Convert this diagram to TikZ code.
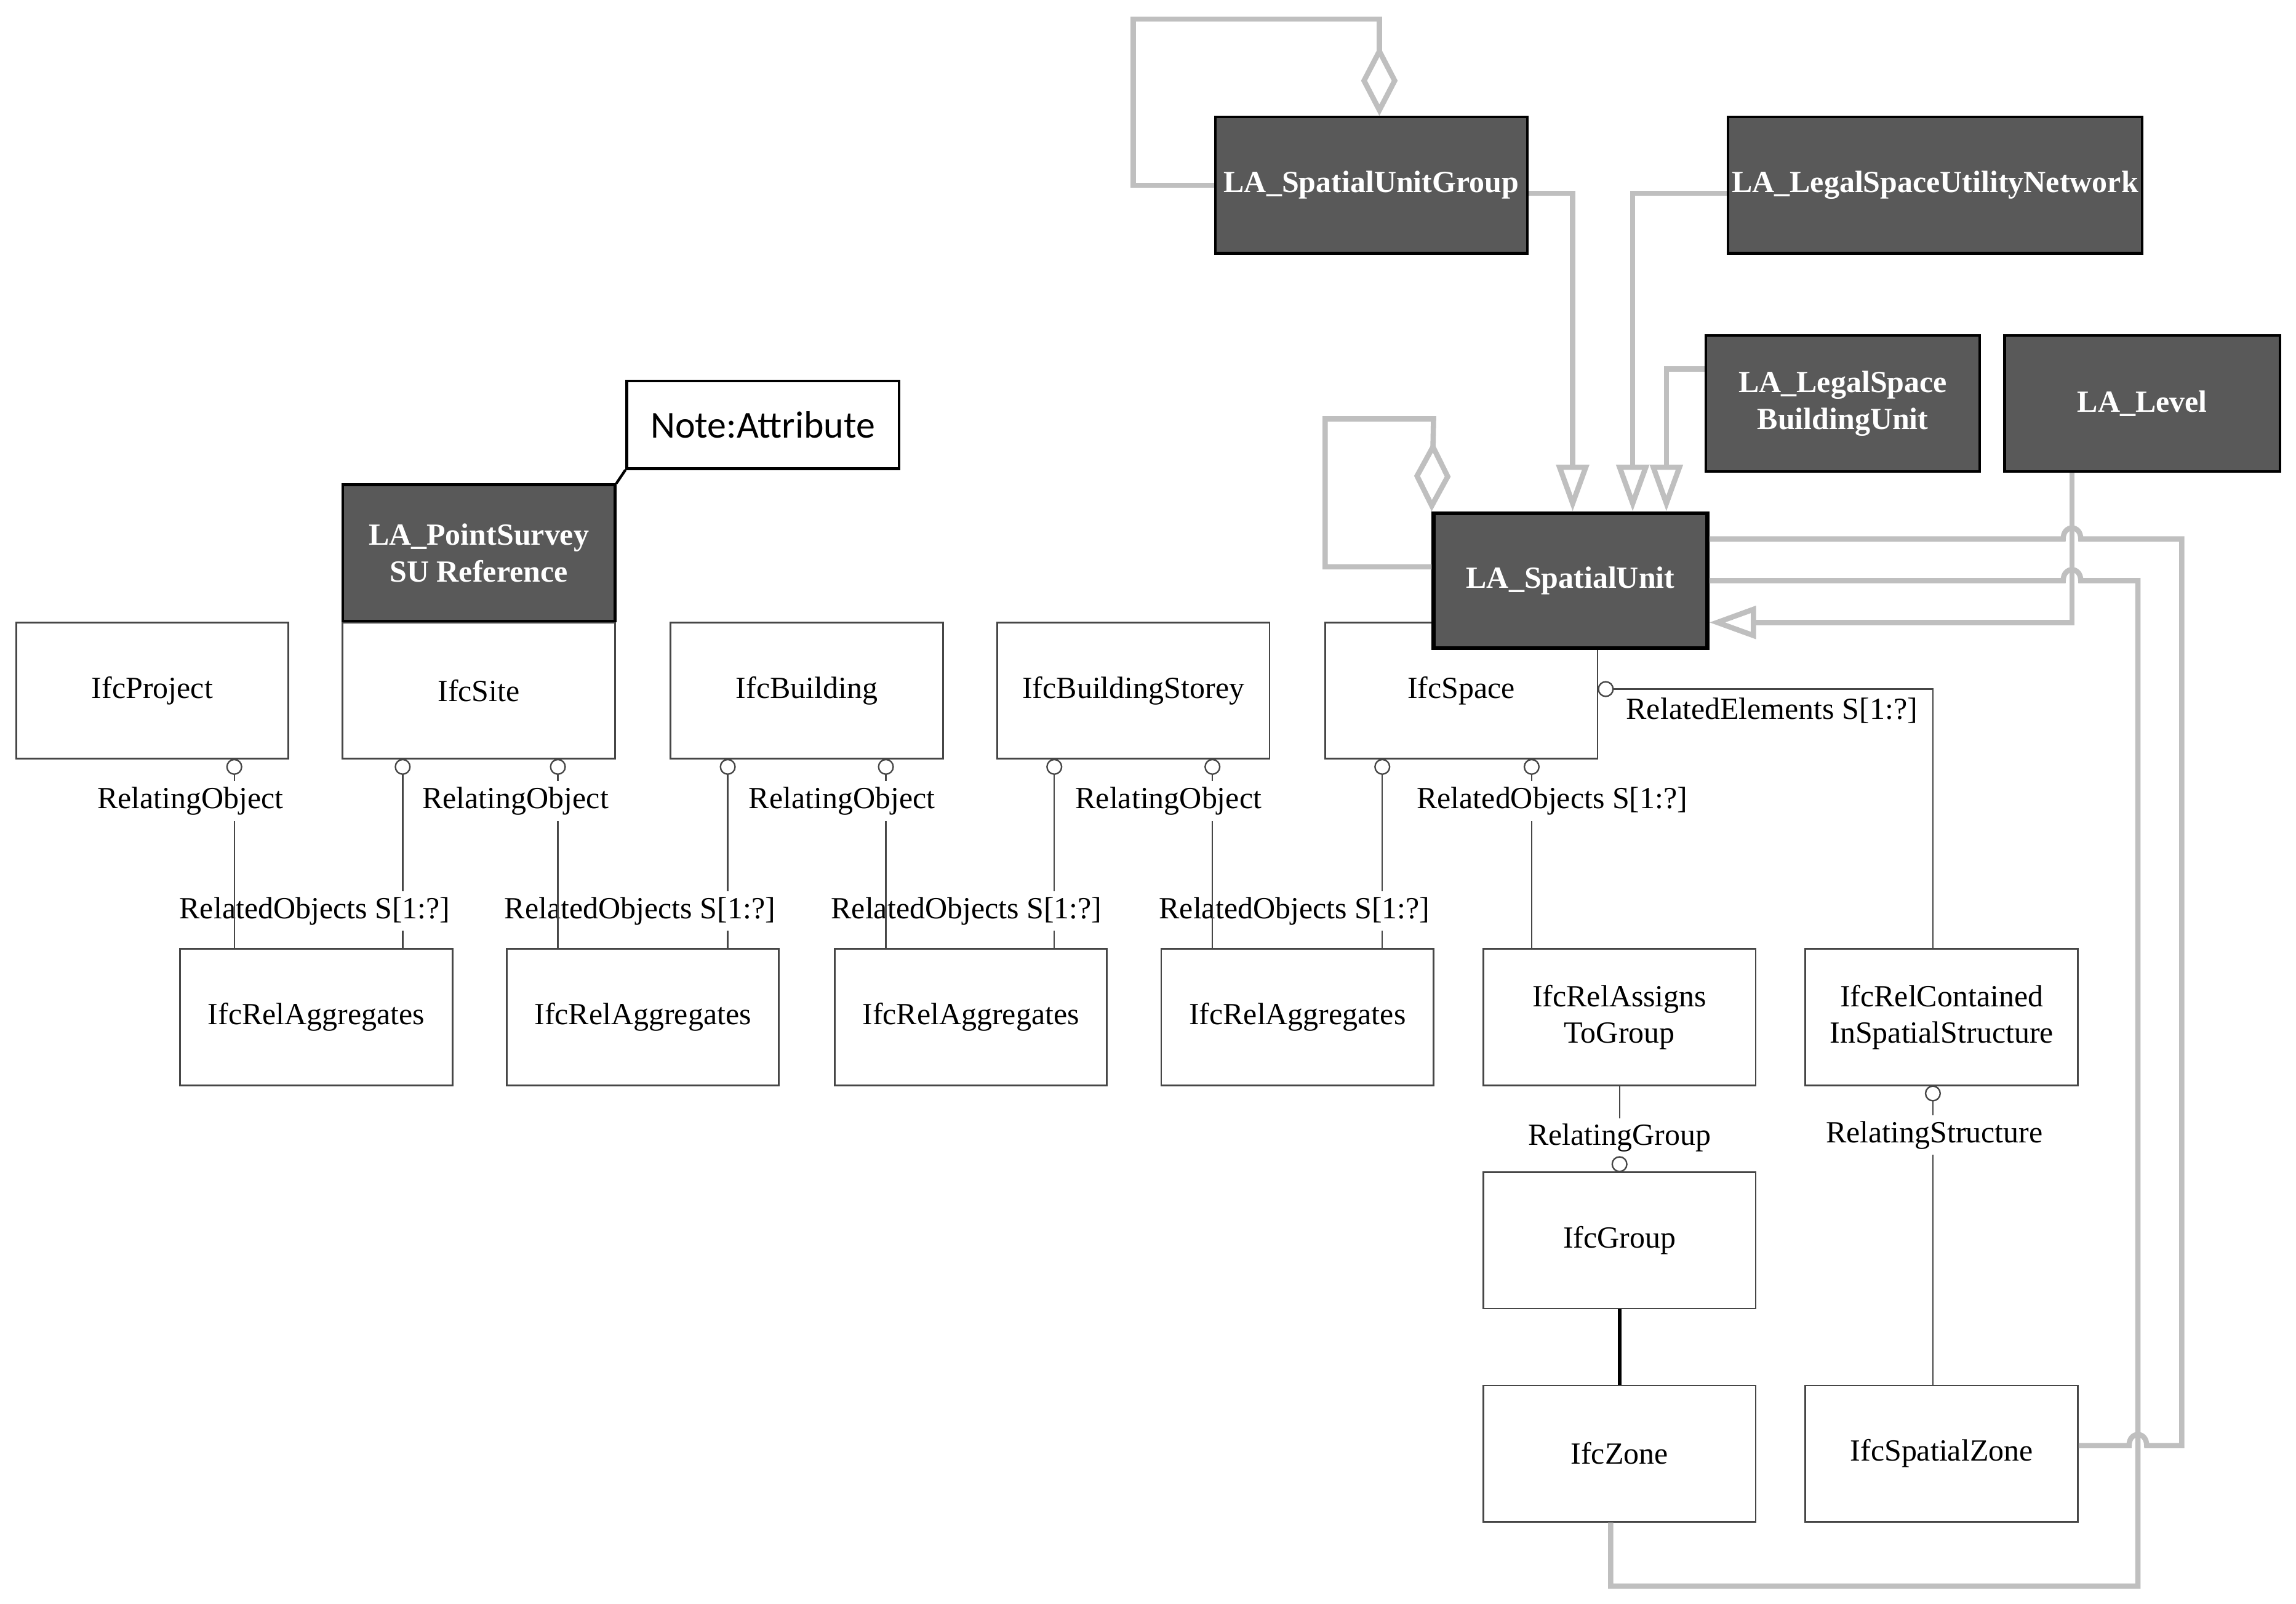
\documentclass[tikz,border=0pt]{standalone}
\usepackage{fontspec}
\setmainfont{Liberation Serif}
\newfontfamily\notefont{Carlito}
\usetikzlibrary{arrows.meta,calc}
\definecolor{darkfill}{RGB}{89,89,89}
\definecolor{glin}{RGB}{191,191,191}
\definecolor{tlin}{RGB}{70,70,70}
\begin{document}
\begin{tikzpicture}[x=0.5pt,y=-0.5pt,
  txt/.style={font=\fontsize{10.5}{12.5}\selectfont},
  ifc/.style={txt, draw=tlin, line width=0.6pt, fill=white, minimum width=93pt, minimum height=46.5pt, inner sep=0pt, align=center},
  la/.style={txt, draw=black, line width=0.9pt, fill=darkfill, text=white, minimum height=46.5pt, inner sep=0pt, align=center, font=\fontsize{10.5}{12.5}\selectfont\bfseries},
  thinline/.style={draw=tlin, line width=0.5pt},
  lab/.style={txt, fill=white, inner xsep=1pt, inner ysep=2pt},
  ocirc/.style={draw=tlin, line width=0.5pt, fill=white},
  gline/.style={draw=glin, line width=1.8pt},
  gen/.style={gline, -{Triangle[open, length=16pt, width=11pt]}},
  agg/.style={gline, {Diamond[open, length=24pt, width=12.5pt]}-},
]
\fill[white] (0,0) rectangle (1568,1095);
\useasboundingbox (0,0) rectangle (1568,1095);

% helper coordinates
\foreach \v in {160,275,381,497,605,720,828,944,1046,1074,1100,1106,1115,1138,1320,1415,942}{\coordinate (x\v) at (\v,0);}
\foreach \v in {132,252,368,387,396,425,987}{\coordinate (y\v) at (0,\v);}

% IFC boxes
\node[ifc] (proj) at (104,471.5) {IfcProject};
\node[ifc] (site) at (327,471.5) {IfcSite};
\node[ifc] (bldg) at (551,471.5) {IfcBuilding};
\node[ifc] (stor) at (774,471.5) {IfcBuildingStorey};
\node[ifc] (space) at (998,471.5) {IfcSpace};
\node[ifc] (agg1) at (216,694.5) {IfcRelAggregates};
\node[ifc] (agg2) at (439,694.5) {IfcRelAggregates};
\node[ifc] (agg3) at (663,694.5) {IfcRelAggregates};
\node[ifc] (agg4) at (886,694.5) {IfcRelAggregates};
\node[ifc] (assign) at (1106,694.5) {IfcRelAssigns\\ToGroup};
\node[ifc] (contain) at (1326,694.5) {IfcRelContained\\InSpatialStructure};
\node[ifc] (group) at (1106,847) {IfcGroup};
\node[ifc] (zone) at (1106,992.5) {IfcZone};
\node[ifc] (spz) at (1326,992.5) {IfcSpatialZone};

% LADM boxes
\node[la, minimum width=93pt] (ps) at (327,377.5) {LA\_PointSurvey\\SU Reference};
\node[la, minimum width=106.5pt] (sug) at (936.5,126.5) {LA\_SpatialUnitGroup};
\node[la, minimum width=141.5pt] (lsun) at (1321.5,126.5) {LA\_LegalSpaceUtilityNetwork};
\node[la, minimum width=93.5pt] (lsbu) at (1258.5,275.5) {LA\_LegalSpace\\BuildingUnit};
\node[la, minimum width=94pt] (level) at (1463,275.5) {LA\_Level};
\node[la, minimum width=93.5pt, minimum height=46pt, line width=1.3pt] (su) at (1072.5,396.5) {LA\_SpatialUnit};
\node[draw=black, line width=0.9pt, fill=white, minimum width=93pt, minimum height=30pt, inner sep=0pt, font=\notefont\fontsize{13}{15}\selectfont] (note) at (521,290) {Note:Attribute};
\draw[black, line width=0.9pt] (ps.north east) -- (note.south west);

% RelatedObjects connectors (drawn first)
\draw[thinline] ($(site.south -| x275)+(0,10)$) -- (agg1.north -| x275);
\node[lab] (l1) at (215,622) {RelatedObjects S[1:?]};
\draw[thinline] ($(bldg.south -| x497)+(0,10)$) -- (agg2.north -| x497);
\node[lab] (l2) at (437,622) {RelatedObjects S[1:?]};
\draw[thinline] ($(stor.south -| x720)+(0,10)$) -- (agg3.north -| x720);
\node[lab] (l3) at (660,622) {RelatedObjects S[1:?]};
\draw[thinline] ($(space.south -| x944)+(0,10)$) -- (agg4.north -| x944);
\node[lab] (l4) at (884,622) {RelatedObjects S[1:?]};

% RelatingObject connectors
\draw[thinline] ($(proj.south -| x160)+(0,10)$) -- (agg1.north -| x160);
\node[lab] (m1) at (130,547) {RelatingObject};
\draw[thinline] ($(site.south -| x381)+(0,10)$) -- (agg2.north -| x381);
\node[lab] (m2) at (352,547) {RelatingObject};
\draw[thinline] ($(bldg.south -| x605)+(0,10)$) -- (agg3.north -| x605);
\node[lab] (m3) at (575,547) {RelatingObject};
\draw[thinline] ($(stor.south -| x828)+(0,10)$) -- (agg4.north -| x828);
\node[lab] (m4) at (798,547) {RelatingObject};

% IfcSpace connectors
\draw[thinline] ($(space.south -| x1046)+(0,10)$) -- (assign.north -| x1046);
\node[lab] (m5) at (1060,547) {RelatedObjects S[1:?]};
\draw[thinline] ($(space.east)+(10,-1)$) -- (1320,470.5) -- (contain.north -| x1320);
\node[txt] (m6) at (1210,485) {RelatedElements S[1:?]};

% group / structure
\draw[thinline] (assign.south) -- ($(group.north)+(0,-10)$);
\node[lab] (m7) at (1106,777) {RelatingGroup};
\draw[thinline] ($(contain.south -| x1320)+(0,10)$) -- (spz.north -| x1320);
\node[lab] (m8) at (1321,775) {RelatingStructure};
\draw[black, line width=1.2pt] (group.south) -- (zone.north);

% circles
\foreach \b/\x in {proj/160,site/275,site/381,bldg/497,bldg/605,stor/720,stor/828,space/944,space/1046,contain/1320}{
  \draw[ocirc] ($(\b.south -| x\x)+(0,5)$) circle[radius=5];
}
\draw[ocirc] ($(space.east)+(5,-1)$) circle[radius=5];
\draw[ocirc] ($(group.north)+(0,-5)$) circle[radius=5];

% grey LADM connectors
\draw[agg] (sug.north -| x942) -- (942,13) -- (774,13) -- (774,126.5) -- (sug.west);
\draw[agg] (su.north west) -- (979,286) -- (905,286) -- (905,387) -- (su.west |- y387);
\draw[gen] (sug.east |- y132) -- (1074,132) -- (su.north -| x1074);
\draw[gen] (lsun.west |- y132) -- (1115,132) -- (su.north -| x1115);
\draw[gen] (lsbu.west |- y252) -- (1138,252) -- (su.north -| x1138);
\draw[gen] (level.south -| x1415) -- (1415,425) -- (su.east |- y425);
\draw[gline] (su.east |- y368) -- (1409,368) .. controls (1409,358) and (1421,358) .. (1421,368) -- (1490,368) -- (1490,987) -- (1466,987) .. controls (1466,977) and (1454,977) .. (1454,987) -- (spz.east |- y987);
\draw[gline] (su.east) -- (1409,396.5) .. controls (1409,386.5) and (1421,386.5) .. (1421,396.5) -- (1460,396.5) -- (1460,1083) -- (1100,1083) -- (zone.south -| x1100);
\end{tikzpicture}
\end{document}
